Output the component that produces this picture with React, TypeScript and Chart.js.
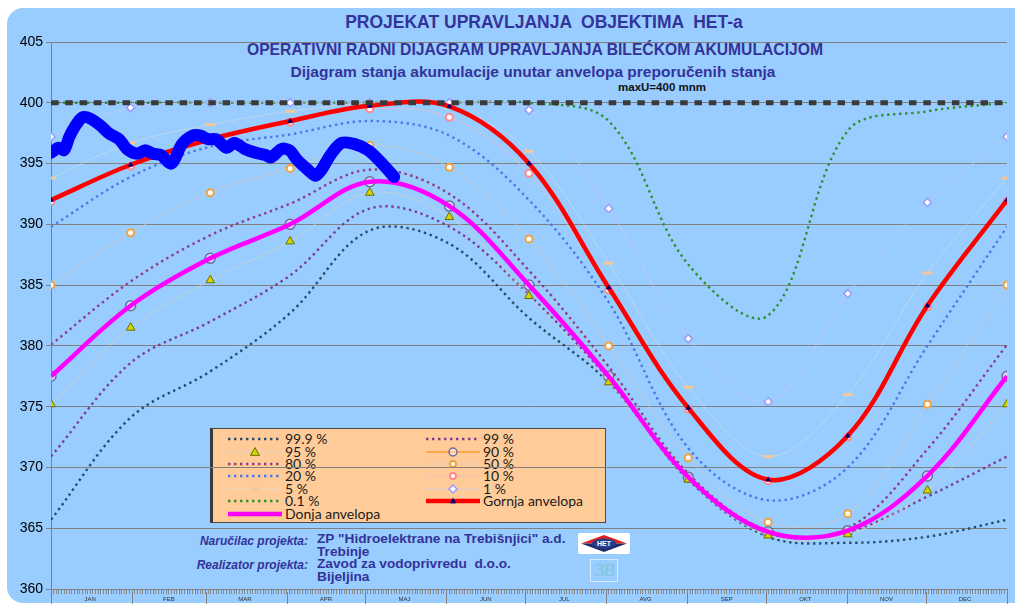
import React, { useEffect, useRef } from 'react';
import { Chart, registerables } from 'chart.js';

Chart.register(...registerables);

// ---------- data ----------
const MONTH_LABELS = ['JAN', 'FEB', 'MAR', 'APR', 'MAJ', 'JUN', 'JUL', 'AVG', 'SEP', 'OKT', 'NOV', 'DEC'];
const MONTH_START_DAYS = [0, 31, 59, 90, 120, 151, 181, 212, 243, 273, 304, 334, 365];
const Y_MIN = 360;
const Y_MAX = 405;
const Y_STEP = 5;
const MAX_LEVEL = 400;

// Points of the probability curves (one per month boundary)
const CURVE_DAYS = [0, 30.4, 60.8, 91.3, 121.7, 152.1, 182.5, 212.9, 243.3, 273.8, 304.2, 334.6, 365];
const P99_9 = [365.7, 374.1, 377.9, 382.7, 389.5, 388.4, 382.3, 377.0, 369.0, 364.3, 363.8, 364.3, 365.7];
const P99 = [370.9, 378.6, 382.0, 385.8, 391.3, 389.8, 384.2, 377.3, 369.2, 364.6, 364.7, 367.6, 370.9];
const P95 = [375.2, 381.5, 385.4, 388.6, 392.6, 390.6, 384.1, 377.0, 369.0, 364.4, 364.5, 368.1, 375.2];
const P90 = [377.5, 383.3, 387.2, 390.0, 393.5, 391.5, 385.0, 377.5, 369.2, 364.7, 364.8, 369.3, 377.5];
const P80 = [380.1, 385.3, 389.1, 391.7, 394.5, 392.5, 386.2, 378.3, 369.5, 364.8, 365.0, 371.5, 380.1];
const P50 = [385.0, 389.3, 392.6, 394.6, 396.5, 394.7, 388.8, 380.0, 370.8, 365.5, 366.2, 375.2, 385.0];
const P20 = [389.8, 393.9, 396.4, 397.4, 398.5, 397.3, 392.0, 383.6, 371.6, 367.3, 370.0, 380.0, 389.8];
const P10 = [391.9, 394.8, 396.9, 398.4, 399.5, 398.8, 394.2, 384.6, 374.8, 368.9, 372.5, 383.2, 391.9];
const P5 = [393.8, 396.7, 398.2, 399.3, 399.9, 399.6, 396.0, 386.8, 376.6, 370.9, 376.0, 386.0, 393.8];
const P1 = [397.2, 399.6, 400.0, 400.0, 400.0, 400.0, 399.4, 391.3, 380.6, 375.4, 384.3, 391.8, 397.2];
const P0_1 = [400.0, 400.0, 400.0, 400.0, 400.0, 400.0, 400.0, 398.5, 386.7, 382.5, 397.7, 399.3, 400.0];
const UPPER_ENVELOPE = [392.0, 394.9, 397.0, 398.5, 399.75, 399.7, 395.0, 384.8, 374.9, 369.0, 372.6, 383.3, 392.0];
const LOWER_ENVELOPE = [377.5, 383.3, 387.2, 390.0, 393.5, 391.5, 385.0, 377.5, 369.2, 364.7, 364.8, 369.3, 377.5];

// Observed reservoir level (day of year, level m a.s.l.)
const ACTUAL_DAYS = [0, 3, 5, 7, 9, 12, 15, 19, 22, 26, 29, 33, 36, 39, 42, 46, 50, 54, 57, 60, 63, 67, 70, 74, 78, 82, 84, 88, 91, 94, 98, 101, 103, 107, 111, 116, 121, 126, 131];
const ACTUAL_LEVELS = [395.9, 396.3, 396.1, 397.2, 398.0, 398.8, 398.7, 398.1, 397.5, 397.0, 396.2, 395.8, 396.1, 395.8, 395.7, 395.0, 396.6, 397.3, 397.3, 397.0, 397.0, 396.3, 396.7, 396.2, 395.9, 395.7, 395.5, 396.2, 396.1, 395.3, 394.5, 394.0, 394.4, 395.8, 396.7, 396.6, 396.1, 395.1, 393.9];

// ---------- styles ----------
type Series = {
  label: string;
  values: number[];
  line: string;
  width: number;
  dash?: number[];
  marker?: string;
  r?: number;
  fill?: string;
  stroke?: string;
  sw?: number;
  order: number;
};

const DOT = [2.4, 3.6];
const SERIES: Series[] = [
  { label: '99.9 %', values: P99_9, line: '#2B4B6B', width: 2.4, dash: DOT, order: 4 },
  { label: '99 %', values: P99, line: '#7D3C8E', width: 2.4, dash: DOT, order: 4 },
  { label: '95 %', values: P95, line: 'rgba(210,210,200,0.75)', width: 1, marker: 'triangle', r: 5, fill: '#D4D400', stroke: '#6E6E00', sw: 1, order: 3 },
  { label: '90 %', values: P90, line: '#FF9933', width: 1.5, marker: 'circle', r: 5, fill: 'rgba(255,235,255,0.5)', stroke: '#6F6F95', sw: 1.5, order: 3 },
  { label: '80 %', values: P80, line: '#8E3C84', width: 2.4, dash: DOT, order: 4 },
  { label: '50 %', values: P50, line: 'rgba(215,200,190,0.7)', width: 1, marker: 'circle', r: 3.5, fill: '#FFFFFF', stroke: '#F2A23C', sw: 2, order: 3 },
  { label: '20 %', values: P20, line: '#4A78E8', width: 2.4, dash: DOT, order: 4 },
  { label: '10 %', values: P10, line: 'rgba(235,190,205,0.7)', width: 1, marker: 'circle', r: 3.5, fill: '#FFFFFF', stroke: '#FF8A8A', sw: 2, order: 3 },
  { label: '5 %', values: P5, line: 'rgba(220,220,220,0.6)', width: 1, marker: 'line', r: 5, fill: '#F2C898', stroke: '#F2C898', sw: 3, order: 3 },
  { label: '1 %', values: P1, line: 'rgba(205,200,245,0.7)', width: 1, marker: 'rectRot', r: 4, fill: '#FFFFFF', stroke: '#9A9AFF', sw: 1.5, order: 3 },
  { label: '0.1 %', values: P0_1, line: '#2F8F2F', width: 2.4, dash: DOT, order: 4 },
  { label: 'Gornja anvelopa', values: UPPER_ENVELOPE, line: '#FF0000', width: 4.5, marker: 'triangle', r: 2.5, fill: '#000080', stroke: '#000080', sw: 1, order: 2 },
  { label: 'Donja anvelopa', values: LOWER_ENVELOPE, line: '#FF00FF', width: 4.5, order: 2 },
];

const FONT = '"Liberation Sans", Arial, sans-serif';

const monthSeparators = {
  id: 'monthSeparators',
  afterDraw(chart: any) {
    const xs = chart.scales.x;
    const { ctx, chartArea } = chart;
    ctx.save();
    ctx.strokeStyle = '#808080';
    ctx.lineWidth = 1;
    MONTH_START_DAYS.forEach((d) => {
      const px = Math.round(xs.getPixelForValue(d)) + 0.5;
      ctx.beginPath();
      ctx.moveTo(px, chartArea.bottom + 3);
      ctx.lineTo(px, chart.height);
      ctx.stroke();
    });
    ctx.restore();
  },
};

function monthMid(i: number) {
  return Math.floor((MONTH_START_DAYS[i] + MONTH_START_DAYS[i + 1]) / 2);
}

function Sample({ s }: { s: Series }) {
  const cy = 6;
  let marker: any = null;
  const r = Math.min(s.r || 0, 4.5);
  if (s.marker === 'triangle') {
    marker = <polygon points={`${27 - r},${cy + r * 0.75} ${27 + r},${cy + r * 0.75} 27,${cy - r}`} fill={s.fill} stroke={s.stroke} strokeWidth={s.sw} />;
  } else if (s.marker === 'circle') {
    marker = <circle cx={27} cy={cy} r={r - 0.5} fill={s.fill} stroke={s.stroke} strokeWidth={s.sw} />;
  } else if (s.marker === 'rectRot') {
    marker = <polygon points={`27,${cy - r} ${27 + r},${cy} 27,${cy + r} ${27 - r},${cy}`} fill={s.fill} stroke={s.stroke} strokeWidth={s.sw} />;
  } else if (s.marker === 'line') {
    marker = <line x1={27 - r} y1={cy} x2={27 + r} y2={cy} stroke={s.stroke} strokeWidth={s.sw} />;
  }
  return (
    <svg width={54} height={12} style={{ display: 'block', flex: 'none' }}>
      <line x1={0} y1={cy} x2={54} y2={cy} stroke={s.line} strokeWidth={s.width}
        strokeDasharray={s.dash ? s.dash.join(' ') : undefined} />
      {marker}
    </svg>
  );
}

export default function App() {
  const canvasRef = useRef<HTMLCanvasElement>(null);

  useEffect(() => {
    const curveSets = SERIES.map((s) => ({
      label: s.label,
      data: CURVE_DAYS.map((d, i) => ({ x: d, y: s.values[i] })),
      borderColor: s.line,
      backgroundColor: s.line,
      borderWidth: s.width,
      borderDash: s.dash || [],
      borderCapStyle: 'butt' as const,
      pointStyle: (s.marker || 'circle') as any,
      pointRadius: s.marker ? s.r : 0,
      pointHoverRadius: s.marker ? s.r : 0,
      pointBackgroundColor: s.fill,
      pointBorderColor: s.stroke,
      pointBorderWidth: s.sw,
      tension: 0.35,
      fill: false,
      order: s.order,
    }));

    const maxLine = {
      label: 'maxU',
      data: [{ x: 0, y: MAX_LEVEL }, { x: 365, y: MAX_LEVEL }],
      borderColor: '#3A3A3A',
      borderWidth: 5,
      borderDash: [7.5, 6.8],
      pointRadius: 0,
      fill: false,
      order: 1,
    };

    const actual = {
      label: 'Ostvareno',
      data: ACTUAL_DAYS.map((d, i) => ({ x: d, y: ACTUAL_LEVELS[i] })),
      borderColor: '#0000FF',
      borderWidth: 12,
      borderCapStyle: 'round' as const,
      borderJoinStyle: 'round' as const,
      pointRadius: 0,
      tension: 0.3,
      fill: false,
      order: 0,
    };

    const chart = new Chart(canvasRef.current as HTMLCanvasElement, {
      type: 'line',
      data: { datasets: [actual, maxLine, ...curveSets] as any },
      options: {
        animation: false,
        responsive: false,
        devicePixelRatio: 1,
        layout: { padding: { top: 42, right: 2, left: 0, bottom: 0 } },
        plugins: { legend: { display: false }, tooltip: { enabled: false }, title: { display: false } },
        scales: {
          x: {
            type: 'linear',
            min: 0,
            max: 365,
            afterBuildTicks: (scale: any) => {
              const t: any[] = [];
              for (let d = 0; d <= 365; d++) t.push({ value: d });
              scale.ticks = t;
            },
            afterFit: (scale: any) => { scale.height = 15; },
            grid: { display: true, drawOnChartArea: false, drawTicks: true, tickLength: 5, color: '#8a8a8a', lineWidth: 1 },
            border: { display: true, color: '#808080' },
            ticks: {
              autoSkip: false,
              maxRotation: 0,
              minRotation: 0,
              padding: 2,
              color: '#333',
              font: { family: FONT, size: 6 },
              callback: (v: any) => {
                for (let i = 0; i < 12; i++) if (monthMid(i) === v) return MONTH_LABELS[i];
                return '';
              },
            },
          },
          y: {
            type: 'linear',
            min: Y_MIN,
            max: Y_MAX,
            afterFit: (scale: any) => { scale.width = 51; },
            ticks: { stepSize: Y_STEP, color: '#000', padding: 3, font: { family: FONT, size: 14 } },
            grid: { color: '#808080', lineWidth: 1, tickLength: 5 },
            border: { display: true, color: '#808080' },
          },
        },
      },
      plugins: [monthSeparators],
    } as any);
    return () => chart.destroy();
  }, []);

  const titleStyle = (cx: number, cy: number, size: number, color: string): React.CSSProperties => ({
    position: 'absolute', left: cx - 450, width: 900, top: cy - 10, lineHeight: '20px', textAlign: 'center',
    fontSize: size, fontWeight: 'bold', color, whiteSpace: 'pre', fontFamily: FONT,
  });

  const left = SERIES.filter((_, i) => i % 2 === 0);
  const right = SERIES.filter((_, i) => i % 2 === 1);
  const legendItem = (s: Series) => (
    <div key={s.label} style={{ display: 'flex', alignItems: 'center', height: 12.4 }}>
      <Sample s={s} />
      <span style={{ marginLeft: 3, fontFamily: 'Lato, "Open Sans", sans-serif', fontSize: 14, color: '#1a1a1a', lineHeight: '12px', whiteSpace: 'nowrap' }}>{s.label}</span>
    </div>
  );

  const navy = '#333399';
  return (
    <div style={{ position: 'fixed', left: 0, top: 0, width: 1015, height: 604, overflow: 'hidden', background: '#ffffff', fontFamily: FONT }}>
      <div style={{ position: 'absolute', left: 7, top: 8, width: 1040, height: 595, background: '#99CCFF', borderRadius: 16 }} />

      <div style={titleStyle(544, 22, 17.5, navy)}>{'PROJEKAT UPRAVLJANJA  OBJEKTIMA  HET-a'}</div>
      <div style={titleStyle(535, 50, 15.7, navy)}>{'OPERATIVNI RADNI DIJAGRAM UPRAVLJANJA BILEĆKOM AKUMULACIJOM'}</div>
      <div style={titleStyle(533, 72, 15.5, navy)}>{'Dijagram stanja akumulacije unutar anvelopa preporučenih stanja'}</div>
      <div style={titleStyle(662, 87, 11.5, '#111')}>{'maxU=400 mnm'}</div>

      <div style={{ position: 'absolute', left: 210, top: 428, width: 392, height: 93, background: '#FFCC99', border: '1px solid #4a4a4a', borderLeft: '3px solid #3a3a3a', boxSizing: 'content-box' }}>
        <div style={{ position: 'absolute', left: 15, top: 4 }}>{left.map(legendItem)}</div>
        <div style={{ position: 'absolute', left: 213, top: 4 }}>{right.map(legendItem)}</div>
      </div>

      <div style={{ position: 'absolute', left: 150, width: 158, top: 533, lineHeight: '16px', textAlign: 'right', fontStyle: 'italic', fontWeight: 'bold', fontSize: 12, color: navy }}>Naručilac projekta:</div>
      <div style={{ position: 'absolute', left: 150, width: 158, top: 557, lineHeight: '16px', textAlign: 'right', fontStyle: 'italic', fontWeight: 'bold', fontSize: 12, color: navy }}>Realizator projekta:</div>
      <div style={{ position: 'absolute', left: 317, top: 533, lineHeight: '12.5px', fontWeight: 'bold', fontSize: 13.7, color: navy, whiteSpace: 'pre' }}>
        {'ZP "Hidroelektrane na Trebišnjici" a.d.\nTrebinje'}
      </div>
      <div style={{ position: 'absolute', left: 317, top: 558, lineHeight: '12.5px', fontWeight: 'bold', fontSize: 13.7, color: navy, whiteSpace: 'pre' }}>
        {'Zavod za vodoprivredu  d.o.o.\nBijeljina'}
      </div>

      <div style={{ position: 'absolute', left: 578, top: 533, width: 52, height: 21, background: '#ffffff', borderRadius: 2 }}>
        <svg width={52} height={21}>
          <polygon points="3,10.5 26,2 49,10.5" fill="#E3201B" />
          <polygon points="3,10.5 26,19 49,10.5" fill="#1F2D6E" />
          <ellipse cx={26} cy={10.5} rx={12} ry={5} fill="#2B3C8C" />
          <text x={26} y={13} fontSize={7} fill="#ffffff" textAnchor="middle" fontWeight="bold" fontFamily={FONT}>HET</text>
        </svg>
      </div>
      <div style={{ position: 'absolute', left: 590, top: 559, width: 26, height: 21, border: '1px solid rgba(255,255,255,0.6)', color: '#7EC8DA', fontFamily: '"DejaVu Serif", serif', fontSize: 17, lineHeight: '21px', textAlign: 'center', letterSpacing: -2 }}>3B</div>

      <canvas ref={canvasRef} width={1015} height={604} style={{ position: 'absolute', left: 0, top: 0, zIndex: 2 }} />
    </div>
  );
}
